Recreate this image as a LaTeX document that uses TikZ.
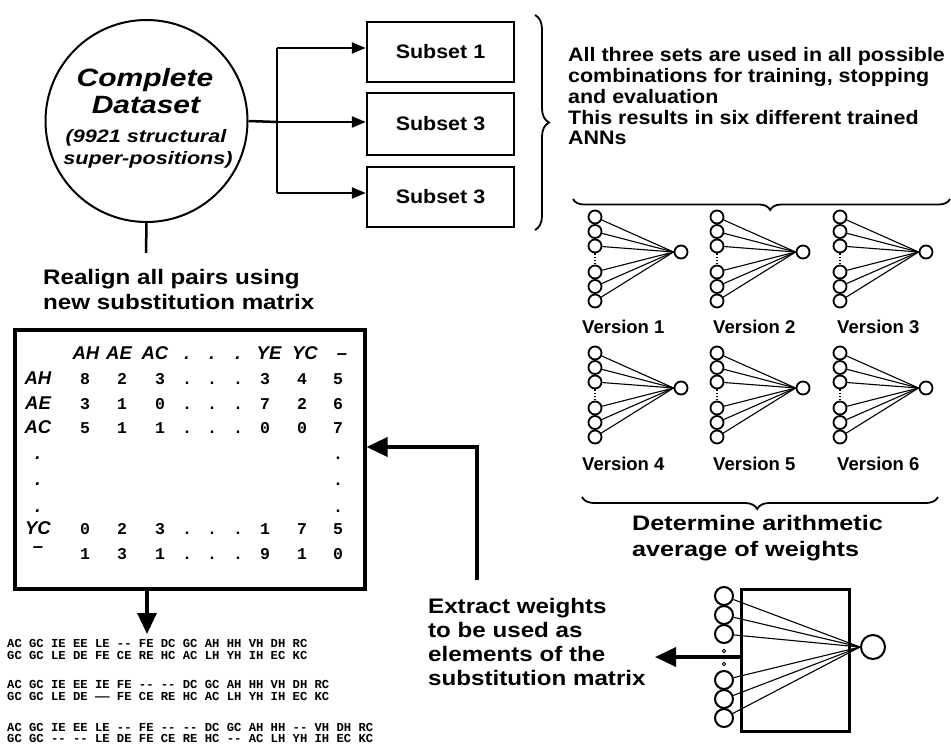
\documentclass[tikz,border=0pt]{standalone}
\usepackage{fontspec}
\setmainfont{Liberation Sans}
\newfontfamily\fstrA{Liberation Sans}[FakeStretch=1.2]
\newfontfamily\fstrB{Liberation Sans}[FakeStretch=1.1]
\newfontfamily\fstrC{Liberation Sans}[FakeStretch=1.15]
\newfontfamily\fmono{Liberation Mono}
\usetikzlibrary{arrows.meta,decorations.pathreplacing,calc}
\newcommand\myCirc{\fstrA\bfseries\itshape\fontsize{25}{25}\selectfont}
\newcommand\myCircS{\fstrA\bfseries\itshape\fontsize{18}{18}\selectfont}
\newcommand\myB{\fstrB\bfseries\fontsize{19.5}{20}\selectfont}
\newcommand\myVer{\bfseries\fontsize{18.5}{19}\selectfont}
\newcommand\myC{\fstrC\bfseries\fontsize{21}{21}\selectfont}
\newcommand\myD{\fstrA\bfseries\fontsize{21}{21}\selectfont}
\newcommand\myLab{\bfseries\itshape\fontsize{18.5}{19}\selectfont}
\newcommand\myNum{\fmono\bfseries\fontsize{16.5}{16}\selectfont}
\newcommand\myAl{\fmono\bfseries\fontsize{12.2}{12}\selectfont}
\begin{document}
\begin{tikzpicture}[x=1pt,y=-1pt,
  txt/.style={inner sep=0pt,anchor=base west},
  ctxt/.style={inner sep=0pt,anchor=base},
  lw/.style={line width=2.5pt},
  subbox/.style={draw,line width=2.5pt,minimum width=147pt,minimum height=60pt,inner sep=0pt,font=\myB},
  arr/.style={-{Triangle[length=14pt,width=11pt]},line width=2.5pt},
  bigarr/.style={-{Triangle[length=21pt,width=19pt]},line width=3.5pt},
  brc/.style={decorate,line width=1.8pt},
  nin/.style={circle,draw,line width=1.8pt,minimum size=13pt,inner sep=0pt},
  bin/.style={circle,draw,line width=2pt,minimum size=18pt,inner sep=0pt},
  wline/.style={line width=1.1pt},
  lab/.style={inner sep=0pt,anchor=base,font=\myLab},
  num/.style={inner sep=0pt,anchor=base,font=\myNum},
  al/.style={inner sep=0pt,anchor=base west,font=\myAl}
]
\fill[white] (0,0) rectangle (951,746);
\useasboundingbox (0,0) rectangle (951,746);

% complete dataset
\node[circle,draw,line width=2pt,minimum size=202pt,inner sep=0pt] (ds) at (146.5,121) {};
\node[ctxt,font=\myCirc] (ds1) at (145,87) {Complete};
\node[ctxt,font=\myCirc] (ds2) at (146,114) {Dataset};
\node[ctxt,font=\myCircS] (ds3) at (146,143) {(9921 structural};
\node[ctxt,font=\myCircS] (ds4) at (148,165) {super-positions)};
\coordinate (dsend) at (146,253);
\draw[lw] (ds.south) -- (dsend);

% subsets
\node[subbox] (b1) at (440.5,52) {Subset 1};
\node[subbox,minimum height=62pt] (b2) at (440.5,124) {Subset 3};
\node[subbox] (b3) at (440.5,197) {Subset 3};
\coordinate (sp) at (277,122);
\coordinate (sp1) at (277,48);
\coordinate (sp3) at (277,193);
\draw[lw] (ds.east) -- (sp);
\draw[lw] (sp1) -- (sp3);
\draw[arr] (sp1) -- (sp1 -| b1.west);
\draw[arr] (sp) -- (sp -| b2.west);
\draw[arr] (sp3) -- (sp3 -| b3.west);

% brace right of subsets
\draw[brc,decoration={brace,amplitude=14pt}] (535,15) -- (535,230);

% description text
\node[txt,font=\myB] (t1) at (568,62) {All three sets are used in all possible};
\node[txt,font=\myB] (t2) at (568,82.7) {combinations for training, stopping};
\node[txt,font=\myB] (t3) at (568,103.4) {and evaluation};
\node[txt,font=\myB] (t4) at (568,124.1) {This results in six different trained};
\node[txt,font=\myB] (t5) at (568,144.8) {ANNs};

% top brace
\draw[brc,decoration={brace,amplitude=11pt,aspect=0.477}] (950,199) -- (573,199);

% six networks
\foreach \r/\yc in {1/259,2/395}{
  \foreach \c/\xi in {1/595,2/717,3/840}{
    \node[nin] (n\r\c-o) at (\xi+86,\yc-7) {};
    \foreach \k/\off in {1/-42,2/-27.5,3/-13,4/13,5/27.5,6/42}{
      \node[nin] (n\r\c-\k) at (\xi,\yc+\off) {};
      \draw[wline] (n\r\c-\k) -- (n\r\c-o.west);
    }
    \draw[line width=1.2pt,dotted] (n\r\c-3.south) -- (n\r\c-4.north);
  }
}
\node[txt,font=\myVer] (v1) at (582,333) {Version 1};
\node[txt,font=\myVer] (v2) at (713,333) {Version 2};
\node[txt,font=\myVer] (v3) at (837,333) {Version 3};
\node[txt,font=\myVer] (v4) at (582,470) {Version 4};
\node[txt,font=\myVer] (v5) at (713,470) {Version 5};
\node[txt,font=\myVer] (v6) at (837,470) {Version 6};

% bottom brace
\draw[brc,decoration={brace,amplitude=12pt,aspect=0.508}] (938,497) -- (582,497);
\node[txt,font=\myD] (d1) at (632,530) {Determine arithmetic};
\node[txt,font=\myD] (d2) at (632,556) {average of weights};

% averaged network
\node[draw,line width=2.5pt,minimum width=108pt,minimum height=142pt,inner sep=0pt,anchor=north west] (bigbox) at (740,588) {};
\node[circle,draw,line width=2pt,minimum size=24pt,inner sep=0pt] (bo) at (873,647) {};
\coordinate (bt) at (655,657);
\draw[bigarr] (bigbox.west |- bt) -- (bt);
\foreach \k/\yy in {1/596,2/615,3/634,4/680,5/699,6/718}{
  \node[bin,fill=white] (bi\k) at (724,\yy) {};
  \draw[wline] (bi\k) -- (bo.west);
}
\node[circle,draw,line width=0.8pt,minimum size=3.5pt,inner sep=0pt,fill=white] (dot1) at (724,651) {};
\node[circle,draw,line width=0.8pt,minimum size=3.5pt,inner sep=0pt,fill=white] (dot2) at (724,664) {};

% extract text
\node[txt,font=\myC] (e1) at (428,613) {Extract weights};
\node[txt,font=\myC] (e2) at (428,637) {to be used as};
\node[txt,font=\myC] (e3) at (428,661) {elements of the};
\node[txt,font=\myC] (e4) at (428,685) {substitution matrix};

% realign text
\node[txt,font=\myC] (r1) at (43,284) {Realign all pairs using};
\node[txt,font=\myC] (r2) at (43,309) {new substitution matrix};

% matrix box
\node[draw,line width=3.5pt,minimum width=350pt,minimum height=259pt,inner sep=0pt,anchor=north west] (mat) at (13,328) {};
\coordinate (ex) at (477,580);
\coordinate (exm) at (363,447);
\draw[bigarr] (ex) |- (mat.east |- exm);
\coordinate (alg) at (147,634);
\draw[bigarr] (mat.south -| alg) -- (alg);

% matrix header
\foreach \t/\xx [count=\j] in {AH/86,AE/119,AC/155,./187,./212,./238,YE/269,YC/305,–/342}{
  \node[lab] (h\j) at (\xx,359) {\t};
}
\def\colx{{85,122,160,187,212,238,265,302,338}}
\foreach \lb/\yy/\vals [count=\r] in {AH/384/{8,2,3,.,.,.,3,4,5},AE/409/{3,1,0,.,.,.,7,2,6},AC/433/{5,1,1,.,.,.,0,0,7},YC/534/{0,2,3,.,.,.,1,7,5}}{
  \node[lab] (rl\r) at (38,\yy) {\lb};
  \foreach \v [count=\j from 0] in \vals {
    \pgfmathsetmacro\xx{\colx[\j]}
    \node[num] (m\r-\j) at (\xx,\yy) {\v};
  }
}
\node[lab] (rl5) at (38,552) {–};
\foreach \v [count=\j from 0] in {1,3,1,.,.,.,9,1,0}{
  \pgfmathsetmacro\xx{\colx[\j]}
  \node[num] (m5-\j) at (\xx,559) {\v};
}
\foreach \yy [count=\k] in {459,485,512}{
  \node[lab] (ld\k) at (38,\yy) {.};
  \node[num] (rd\k) at (338,\yy) {.};
}

% alignments
\node[al] (a1) at (7,647) {AC~GC~IE~EE~LE~-{}-~FE~DC~GC~AH~HH~VH~DH~RC};
\node[al] (a2) at (7,659) {GC~GC~LE~DE~FE~CE~RE~HC~AC~LH~YH~IH~EC~KC};
\node[al] (a3) at (7,688.5) {AC~GC~IE~EE~IE~FE~-{}-~-{}-~DC~GC~AH~HH~VH~DH~RC};
\node[al] (a4) at (7,700.5) {GC~GC~LE~DE~——~FE~CE~RE~HC~AC~LH~YH~IH~EC~KC};
\node[al] (a5) at (7,731) {AC~GC~IE~EE~LE~-{}-~FE~-{}-~-{}-~DC~GC~AH~HH~-{}-~VH~DH~RC};
\node[al] (a6) at (7,742.5) {GC~GC~-{}-~-{}-~LE~DE~FE~CE~RE~HC~-{}-~AC~LH~YH~IH~EC~KC};
\end{tikzpicture}
\end{document}
